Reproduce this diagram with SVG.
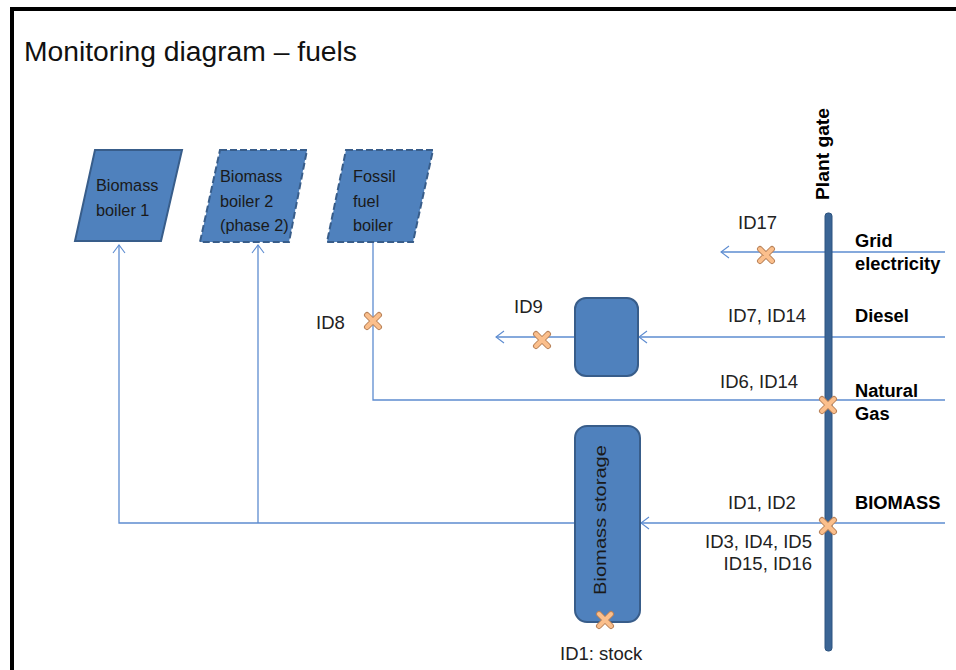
<svg xmlns="http://www.w3.org/2000/svg" width="956" height="670" viewBox="0 0 956 670">
<defs>
<style>
.shape{fill:#4f81bd;stroke:#385d8a;stroke-width:2}
.dash{stroke-dasharray:7,3}
.in{font-family:"Liberation Sans",Arial,sans-serif;font-size:16.3px;fill:#1a1a1a}
.lbl{font-family:"Liberation Sans",Arial,sans-serif;font-size:18.5px;fill:#222}
.bold{font-family:"Liberation Sans",Arial,sans-serif;font-size:18.3px;font-weight:bold;fill:#000}
.con{fill:none;stroke:#5d8cd0;stroke-width:1.3}
.arr{fill:none;stroke:#5d8cd0;stroke-width:1.1}
</style>
<g id="xm">
<path d="M-6,-6 L6,6 M6,-6 L-6,6" stroke="#b9835a" stroke-width="6" stroke-linecap="round" fill="none"/>
<path d="M-6,-6 L6,6 M6,-6 L-6,6" stroke="#fbbf8c" stroke-width="4" stroke-linecap="round" fill="none"/>
</g>
<path id="ah" d="M8,-6 L0,0 L8,6" class="arr"/>
</defs>
<rect width="956" height="670" fill="#fff"/>
<path d="M12,672 L12,9 L958,9" fill="none" stroke="#000" stroke-width="4"/>
<text x="24" y="61" font-family="'Liberation Sans',Arial,sans-serif" font-size="27" fill="#111" textLength="333" lengthAdjust="spacingAndGlyphs">Monitoring diagram – fuels</text>

<g id="connectors">
<path class="con" d="M575,523 H119 V245"/>
<path class="con" d="M258,523 V245"/>
<path class="con" d="M373,243 V400 H945"/>
<path class="con" d="M945,252 H721"/>
<path class="con" d="M945,337 H639"/>
<path class="con" d="M575,337 H496"/>
<path class="con" d="M945,523 H641"/>
<use href="#ah" transform="translate(119,245) rotate(90)"/>
<use href="#ah" transform="translate(258,245) rotate(90)"/>
<use href="#ah" transform="translate(721,252)"/>
<use href="#ah" transform="translate(639,337)"/>
<use href="#ah" transform="translate(496,337)"/>
<use href="#ah" transform="translate(641,523)"/>
</g>

<g id="boiler1">
<polygon class="shape" points="95,150 182,150 161,241 75,241"/>
<text class="in" x="96" y="191">Biomass</text>
<text class="in" x="96" y="216">boiler 1</text>
</g>
<g id="boiler2">
<polygon class="shape dash" points="220,150 307,150 289,242 200,242"/>
<text class="in" x="220" y="182">Biomass</text>
<text class="in" x="220" y="207">boiler 2</text>
<text class="in" x="220" y="231">(phase 2)</text>
</g>
<g id="fossil">
<polygon class="shape dash" points="346,150 433,150 413,242 327,242"/>
<text class="in" x="353" y="182">Fossil</text>
<text class="in" x="353" y="207">fuel</text>
<text class="in" x="353" y="231">boiler</text>
</g>
<g id="dieselBox">
<rect class="shape" x="575" y="298" width="63" height="78" rx="11"/>
</g>
<g id="storage">
<rect class="shape" x="575" y="426" width="65" height="196" rx="12"/>
<text class="in" font-size="18" text-anchor="middle" textLength="150" lengthAdjust="spacingAndGlyphs" transform="translate(606,520) rotate(-90)">Biomass storage</text>
</g>
<g id="plantGate">
<rect x="825" y="213" width="7" height="438" rx="3" fill="#3b6595" stroke="#2e5480" stroke-width="1"/>
<text class="bold" font-size="17" text-anchor="middle" textLength="92" lengthAdjust="spacingAndGlyphs" transform="translate(829,154) rotate(-90)">Plant gate</text>
</g>

<g id="markers">
<use href="#xm" x="766" y="255"/>
<use href="#xm" x="542" y="340"/>
<use href="#xm" x="373" y="321"/>
<use href="#xm" x="828" y="405"/>
<use href="#xm" x="828" y="526"/>
<use href="#xm" x="605" y="620"/>
</g>

<g id="labels">
<text class="lbl" x="738" y="229">ID17</text>
<text class="lbl" x="514" y="313">ID9</text>
<text class="lbl" x="728" y="322">ID7, ID14</text>
<text class="lbl" x="316" y="329">ID8</text>
<text class="lbl" x="720" y="388">ID6, ID14</text>
<text class="lbl" x="728" y="509">ID1, ID2</text>
<text class="lbl" x="812" y="548" text-anchor="end">ID3, ID4, ID5</text>
<text class="lbl" x="812" y="570" text-anchor="end">ID15, ID16</text>
<text class="lbl" x="560" y="660">ID1: stock</text>
<text class="bold" x="855" y="247">Grid</text>
<text class="bold" x="855" y="270">electricity</text>
<text class="bold" x="855" y="322">Diesel</text>
<text class="bold" x="855" y="397">Natural</text>
<text class="bold" x="855" y="420">Gas</text>
<text class="bold" x="855" y="509">BIOMASS</text>
</g>
</svg>
